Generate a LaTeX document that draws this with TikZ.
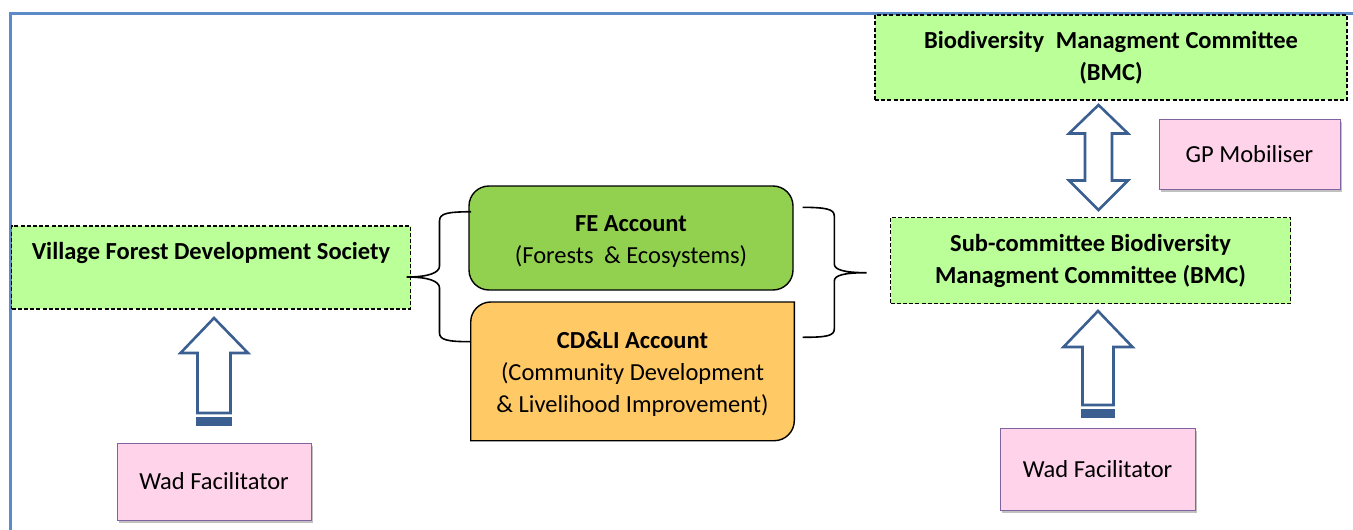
\documentclass[tikz,border=0pt]{standalone}
\usepackage{fontspec}
\setmainfont{Carlito}
\usetikzlibrary{shadows}
\definecolor{boxgreen}{RGB}{187,255,153}
\definecolor{fegreen}{RGB}{146,208,80}
\definecolor{cdorange}{RGB}{255,201,102}
\definecolor{pinkfill}{RGB}{255,211,234}
\definecolor{pinkline}{RGB}{128,100,162}
\definecolor{arrowblue}{RGB}{59,95,145}
\definecolor{frameblue}{RGB}{91,139,200}
\begin{document}
\begin{tikzpicture}[x=1pt,y=-1pt,
  txt/.style={font=\fontsize{24.5}{32}\selectfont, align=center, text=black},
  greenbox/.style={draw=black, dash pattern=on 4pt off 2.2pt, line width=1.3pt, fill=boxgreen, inner sep=0pt, txt},
  pinkbox/.style={draw=pinkline, line width=1pt, fill=pinkfill, inner sep=0pt, txt,
     drop shadow={shadow xshift=2pt, shadow yshift=-3pt, fill=black!35, opacity=0.7}},
  acctbox/.style={draw=black, line width=1.4pt, inner sep=0pt, txt},
  bigarrow/.style={draw=arrowblue, line width=2.6pt, fill=white, line join=miter},
  brace/.style={draw=black, line width=1.6pt},
  frame/.style={draw=frameblue, line width=3pt}
]
\useasboundingbox (0,0) rectangle (1353,530);
% frame
\coordinate (fb) at (10,530);
\coordinate (fc) at (10,13.5);
\coordinate (fr) at (1353,13.5);
\draw[frame] (fb) -- (fc) -- (fr);

% green boxes
\node[greenbox, minimum width=472pt, minimum height=85pt] (bmc) at (1111,57.5)
  {\bfseries Biodiversity\hspace{0.25em} Managment Committee\\ \bfseries (BMC)};
\node[greenbox, minimum width=400pt, minimum height=86pt] (sub) at (1090.5,260.5)
  {\bfseries Sub-committee Biodiversity\\ \bfseries Managment Committee (BMC)};
\node[greenbox, minimum width=399pt, minimum height=83pt] (vfds) at (211,267.5) {};
\node[txt, font=\fontsize{24.5}{32}\selectfont\bfseries] (vfdst) at (211,253) {Village Forest Development Society};

% account boxes
\node[acctbox, fill=fegreen, rounded corners=20pt, minimum width=324pt, minimum height=104pt] (fe) at (631,238) {};
\node[txt] (fet) at (631,242) {\bfseries FE Account\\ (Forests\hspace{0.2em} \& Ecosystems)};
\fill[cdorange, draw=black, line width=1.4pt]
  (470.7,440.7) -- (470.7,322) .. controls (470.7,311) and (479.7,302) .. (490.7,302)
  -- (794.3,302) -- (794.3,420.7) .. controls (794.3,431.7) and (785.3,440.7) .. (774.3,440.7) -- cycle;
\node[txt, minimum width=324pt, minimum height=139pt] (cdli) at (632.5,374)
  {\bfseries CD\&LI Account\\ (Community Development\\ \& Livelihood Improvement)};

% pink boxes
\node[pinkbox, minimum width=181pt, minimum height=70pt] (gp) at (1249.5,154) {GP Mobiliser};
\node[pinkbox, minimum width=194pt, minimum height=77pt] (wadl) at (214,481.5) {Wad Facilitator};
\node[pinkbox, minimum width=195pt, minimum height=82pt] (wadr) at (1097.5,469) {Wad Facilitator};

% braces
\coordinate (lbt) at (471,211.7);
\coordinate (lbm) at (406.7,277);
\coordinate (lbb) at (470.5,341.7);
\draw[brace] (lbt) .. controls (448,212) and (439.5,213) .. (439.5,221) -- (439.5,266)
  .. controls (439.5,273) and (428,277) .. (lbm)
  .. controls (428,277) and (439.5,281) .. (439.5,288) -- (439.5,333)
  .. controls (439.5,340) and (448,341.7) .. (lbb);
\coordinate (rbt) at (802.7,207.3);
\coordinate (rbm) at (866.7,272.7);
\coordinate (rbb) at (802.7,337.3);
\draw[brace] (rbt) .. controls (826,207.5) and (834.3,209) .. (834.3,216) -- (834.3,264)
  .. controls (834.3,270) and (845,272.7) .. (rbm)
  .. controls (845,272.7) and (834.3,275) .. (834.3,281) -- (834.3,329)
  .. controls (834.3,336) and (826,337.3) .. (rbb);

% left up arrow
\draw[bigarrow] (214,318) -- (248,353) -- (230.5,353) -- (230.5,413) -- (197.5,413) -- (197.5,353) -- (180.5,353) -- cycle;
\fill[arrowblue] (196.2,417) rectangle (231.8,425.5);
% right up arrow
\draw[bigarrow] (1098,311) -- (1132.5,347) -- (1113.5,347) -- (1113.5,405) -- (1082.5,405) -- (1082.5,347) -- (1063.5,347) -- cycle;
\fill[arrowblue] (1081.2,409) rectangle (1114.8,418);
% double arrow
\draw[bigarrow] (1098.5,105) -- (1128,133.5) -- (1112,133.5) -- (1112,180.5) -- (1128,180.5) -- (1098.5,210)
  -- (1069,180.5) -- (1085,180.5) -- (1085,133.5) -- (1069,133.5) -- cycle;
\end{tikzpicture}
\end{document}
